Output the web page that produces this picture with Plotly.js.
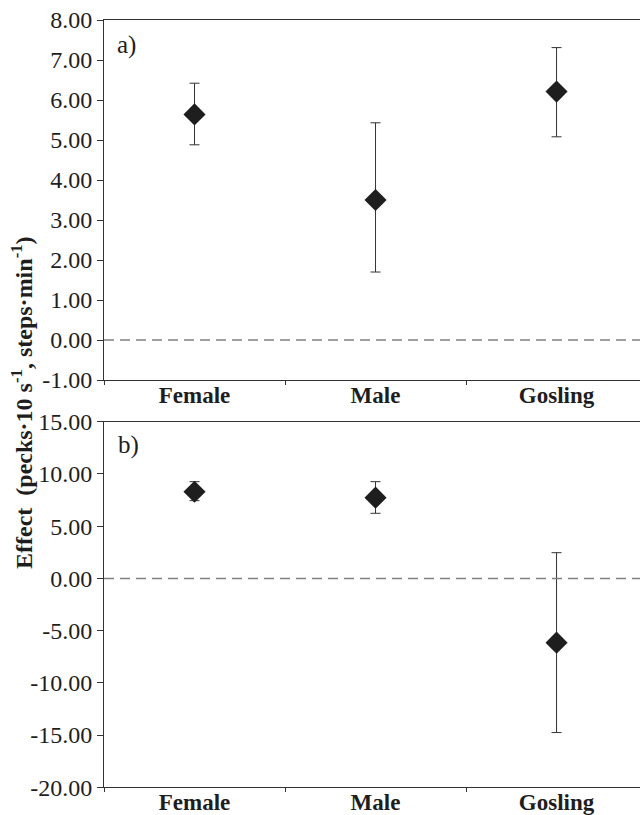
<!DOCTYPE html>
<html>
<head>
<meta charset="utf-8">
<script src="https://cdn.plot.ly/plotly-3.0.1.min.js"></script>
<style>html,body{margin:0;padding:0;background:#fff;overflow:hidden}</style>
</head>
<body>
<div id="chart" style="width:640px;height:815px"></div>
<script>
const categories = ["Female", "Male", "Gosling"];
// Panel a)
const meanA = [5.64, 3.50, 6.21];
const upperA = [6.42, 5.43, 7.31];
const lowerA = [4.88, 1.70, 5.08];
// Panel b)
const meanB = [8.30, 7.73, -6.15];
const upperB = [9.26, 9.26, 2.46];
const lowerB = [7.44, 6.23, -14.76];

const yTicksA = [-1, 0, 1, 2, 3, 4, 5, 6, 7, 8];
const yTicksB = [-20, -15, -10, -5, 0, 5, 10, 15];

const serif = "Liberation Serif, Times New Roman, serif";
const ink = "#1e1e1e";

function trace(mean, up, lo, xa, ya) {
  return {
    type: "scatter", mode: "markers",
    x: categories, y: mean, xaxis: xa, yaxis: ya,
    marker: {symbol: "diamond", size: 17, color: ink},
    error_y: {
      type: "data", symmetric: false,
      array: up.map((v, i) => v - mean[i]),
      arrayminus: lo.map((v, i) => mean[i] - v),
      color: "#333", thickness: 1, width: 5
    },
    showlegend: false, hoverinfo: "skip"
  };
}

const fmt = v => v.toFixed(2);

const xCommon = {
  type: "category", range: [-0.5, 2.461], domain: [0.1625, 1],
  showline: true, linecolor: "#333", linewidth: 1, mirror: true,
  ticks: "outside", tickson: "boundaries", ticklen: 4, tickcolor: "#333",
  ticklabelstandoff: -6,
  tickfont: {family: serif, size: 23, color: ink, weight: "bold"},
  showgrid: false, zeroline: false, fixedrange: true
};
const yCommon = {
  showline: true, linecolor: "#333", linewidth: 1,
  ticks: "outside", ticklen: 6, tickcolor: "#333",
  tickfont: {family: serif, size: 24, color: ink},
  tickmode: "array",
  showgrid: false, zeroline: false, fixedrange: true
};

const dashLine = {color: "#808080", width: 1.5, dash: "10px,6px"};

const layout = {
  width: 640, height: 815,
  margin: {l: 0, r: 0, t: 0, b: 0},
  paper_bgcolor: "#fff", plot_bgcolor: "#fff",
  xaxis: Object.assign({}, xCommon, {anchor: "y"}),
  xaxis2: Object.assign({}, xCommon, {anchor: "y2"}),
  yaxis: Object.assign({}, yCommon, {anchor: "x", domain: [0.5337, 0.97546], range: [-1, 8], tickvals: yTicksA, ticktext: yTicksA.map(fmt)}),
  yaxis2: Object.assign({}, yCommon, {anchor: "x2", domain: [0.03399, 0.48258], range: [-20, 15], tickvals: yTicksB, ticktext: yTicksB.map(fmt)}),
  shapes: [
    {type: "line", xref: "x domain", yref: "y", x0: 0, x1: 1, y0: 0, y1: 0, line: dashLine},
    {type: "line", xref: "x2 domain", yref: "y2", x0: 0, x1: 1, y0: 0, y1: 0, line: dashLine}
  ],
  annotations: [
    {text: "a)", xref: "paper", yref: "paper", x: 115/640, y: 1 - 45/815, xanchor: "left", yanchor: "middle", showarrow: false, font: {family: serif, size: 25, color: ink}},
    {text: "b)", xref: "paper", yref: "paper", x: 116/640, y: 1 - 445/815, xanchor: "left", yanchor: "middle", showarrow: false, font: {family: serif, size: 25, color: ink}},
    {text: "Effect  (pecks\u00b710 s<sup>-1</sup>, steps\u00b7min<sup>-1</sup>)", xref: "paper", yref: "paper", x: 22/640, y: 1 - 403/815, xanchor: "center", yanchor: "middle", textangle: -90, showarrow: false, font: {family: serif, size: 24, color: ink, weight: "bold"}}
  ]
};

Plotly.newPlot("chart", [
  trace(meanA, upperA, lowerA, "x", "y"),
  trace(meanB, upperB, lowerB, "x2", "y2")
], layout, {displayModeBar: false, staticPlot: true});
</script>
</body>
</html>
